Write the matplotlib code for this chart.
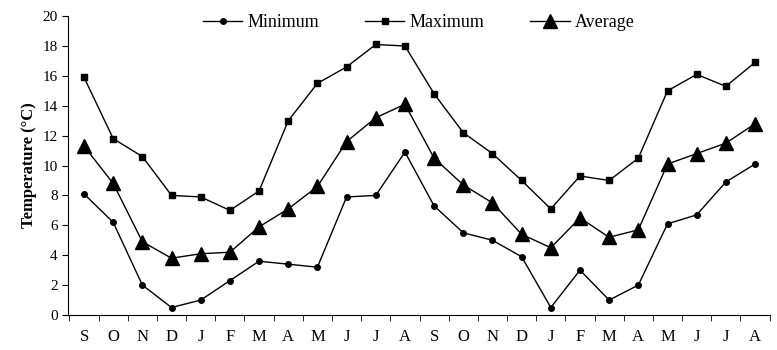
import numpy as np
import matplotlib.pyplot as plt

months = ['S', 'O', 'N', 'D', 'J', 'F', 'M', 'A', 'M', 'J', 'J', 'A',
          'S', 'O', 'N', 'D', 'J', 'F', 'M', 'A', 'M', 'J', 'J', 'A']

minimum = [8.1, 6.2, 2.0, 0.5, 1.0, 2.3, 3.6, 3.4, 3.2, 7.9, 8.0, 10.9,
           7.3, 5.5, 5.0, 3.9, 0.5, 3.0, 1.0, 2.0, 6.1, 6.7, 8.9, 10.1]
maximum = [15.9, 11.8, 10.6, 8.0, 7.9, 7.0, 8.3, 13.0, 15.5, 16.6, 18.1, 18.0,
           14.8, 12.2, 10.8, 9.0, 7.1, 9.3, 9.0, 10.5, 15.0, 16.1, 15.3, 16.9]
average = [11.3, 8.8, 4.9, 3.8, 4.1, 4.2, 5.9, 7.1, 8.6, 11.6, 13.2, 14.1,
           10.5, 8.7, 7.5, 5.4, 4.5, 6.5, 5.2, 5.7, 10.1, 10.8, 11.5, 12.8]

plt.rcParams['font.family'] = ['Liberation Serif', 'DejaVu Serif']

x = np.arange(len(months))

fig = plt.figure(figsize=(7.77, 3.5), dpi=100)
ax = fig.add_axes([0.0875, 0.1, 0.903, 0.854])

ax.plot(x, minimum, color='black', lw=1, marker='o', ms=4, label='Minimum')
ax.plot(x, maximum, color='black', lw=1, marker='s', ms=5, label='Maximum')
ax.plot(x, average, color='black', lw=1, marker='^', ms=10, label='Average')

ax.set_xlim(-0.55, 23.5)
ax.set_ylim(0, 20)
ax.set_yticks(np.arange(0, 21, 2))
ax.set_xticks(x)
ax.set_xticklabels(months, fontsize=12)
ax.set_xticks(np.arange(-0.5, 23.6, 1), minor=True)
ax.tick_params(axis='x', which='major', length=0, pad=10)
ax.tick_params(axis='x', which='minor', length=4, direction='out')
ax.tick_params(axis='y', length=4, direction='out', labelsize=11)

for s in ['top', 'right']:
    ax.spines[s].set_visible(False)

ax.set_ylabel('Temperature (°C)', fontsize=12, fontweight='bold')

ax.legend(loc='upper center', ncol=3, frameon=False, fontsize=13,
          bbox_to_anchor=(0.5, 1.06), handlelength=2.2, columnspacing=2.5,
          handletextpad=0.3)

fig.savefig('out.png', dpi=100)
